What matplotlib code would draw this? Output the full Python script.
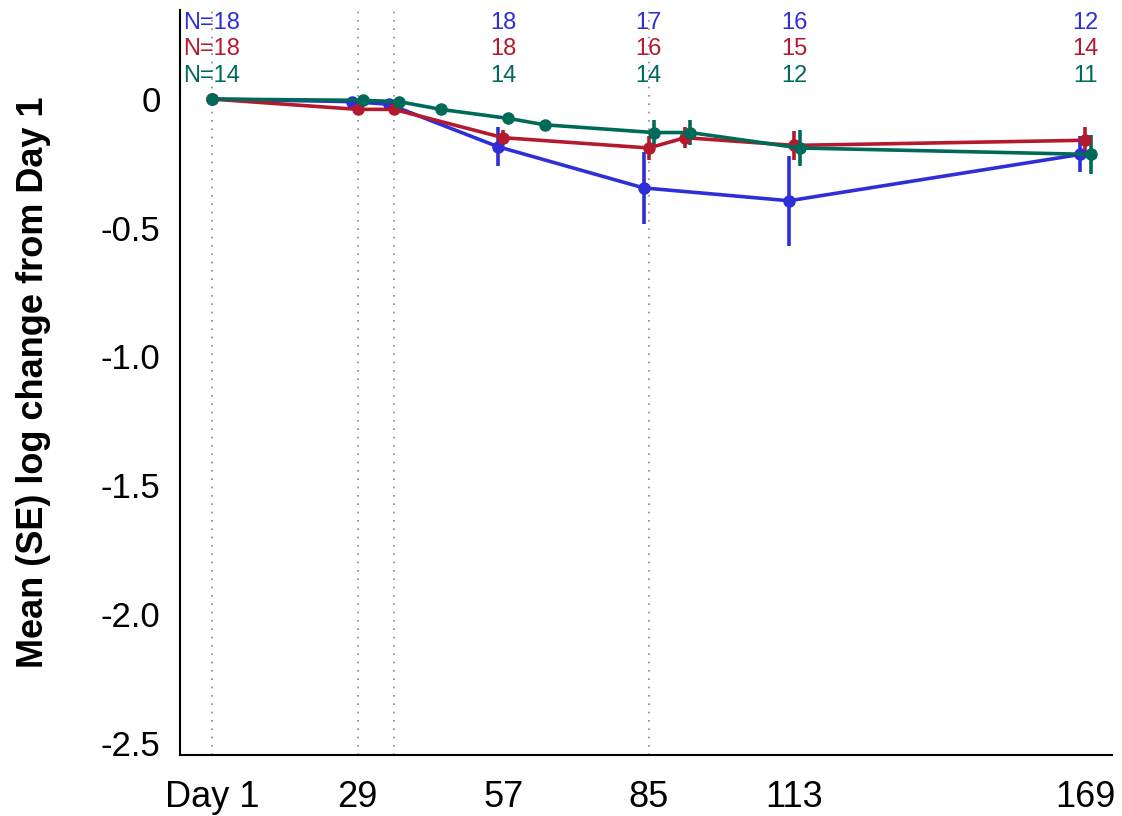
import matplotlib
matplotlib.use('Agg')
import matplotlib.pyplot as plt

BLUE = '#2f2fd8'
RED = '#b41a2e'
GREEN = '#006a58'

tick_days = [1, 29, 57, 85, 113, 169]
tick_labels = ['Day 1', '29', '57', '85', '113', '169']
ref_days = [1, 29, 36, 85]

# group 1 (blue)
blue_day = [1, 28, 35, 56, 84, 112, 168]
blue_mean = [0, -0.01, -0.02, -0.185, -0.345, -0.395, -0.215]
blue_se = [0, 0, 0, 0.075, 0.14, 0.175, 0.07]
blue_n = ['N=18', '18', '17', '16', '12']

# group 2 (red)
red_day = [1, 29, 36, 57, 85, 92, 113, 169]
red_mean = [0, -0.04, -0.04, -0.15, -0.19, -0.15, -0.18, -0.16]
red_se = [0, 0, 0, 0.03, 0.045, 0.04, 0.055, 0.05]
red_n = ['N=18', '18', '16', '15', '14']

# group 3 (green)
green_day = [1, 30, 37, 45, 58, 65, 86, 93, 114, 170]
green_mean = [0, -0.005, -0.01, -0.04, -0.075, -0.1, -0.13, -0.13, -0.19, -0.215]
green_se = [0, 0, 0, 0, 0, 0.02, 0.05, 0.05, 0.07, 0.075]
green_n = ['N=14', '14', '14', '12', '11']

n_days = [1, 57, 85, 113, 169]

plt.rcParams['font.family'] = ['Liberation Sans', 'DejaVu Sans']

fig = plt.figure(figsize=(11.22, 8.16), dpi=100)
ax = fig.add_axes([180 / 1122, 61 / 816, 932 / 1122, 745 / 816])

# dotted reference lines at visit days
for d in ref_days:
    ax.axvline(d, color='#888888', linestyle=(0, (1, 4)), linewidth=1.2, zorder=1)

for day, mean, se, col in [(blue_day, blue_mean, blue_se, BLUE),
                           (red_day, red_mean, red_se, RED),
                           (green_day, green_mean, green_se, GREEN)]:
    ax.errorbar(day, mean, yerr=se, color=col, linewidth=2.6, elinewidth=2.6,
                marker='o', markersize=8, capsize=0, zorder=3)

# N per group along the top
for labels, col, yy in [(blue_n, BLUE, 0.983), (red_n, RED, 0.947), (green_n, GREEN, 0.912)]:
    for d, lab in zip(n_days, labels):
        ax.text(d, yy, lab, color=col, fontsize=17, ha='center', va='center',
                transform=ax.get_xaxis_transform())

ax.set_xlim(-5.15, 174.1)
ax.set_ylim(-2.548, 0.346)
ax.set_xticks(tick_days)
ax.set_xticklabels(tick_labels, fontsize=26)
ax.set_yticks([0, -0.5, -1.0, -1.5, -2.0, -2.5])
ax.set_yticklabels(['0', '-0.5', '-1.0', '-1.5', '-2.0', '-2.5'], fontsize=25)
ax.tick_params(axis='x', length=0, pad=18)
ax.tick_params(axis='y', length=0, pad=14)

ax.set_ylabel('Mean (SE) log change from Day 1', fontsize=26, fontweight='bold', labelpad=36)

ax.spines['top'].set_visible(False)
ax.spines['right'].set_visible(False)
ax.spines['left'].set_linewidth(1.5)
ax.spines['bottom'].set_linewidth(1.5)

fig.savefig('out.png', dpi=100)
